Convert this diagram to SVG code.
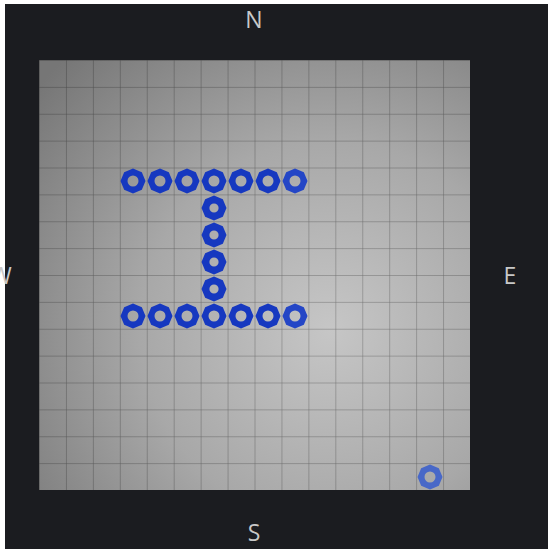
<svg xmlns="http://www.w3.org/2000/svg" width="548" height="549" viewBox="0 0 548 549">
<defs>
<radialGradient id="bg" gradientUnits="userSpaceOnUse" cx="330" cy="330" r="380">
<stop offset="0" stop-color="#c6c6c6"/>
<stop offset="0.5" stop-color="#a8a8a8"/>
<stop offset="1" stop-color="#767676"/>
</radialGradient>
<pattern id="grid" patternUnits="userSpaceOnUse" x="39" y="60" width="26.9375" height="26.875">
<path d="M0 0H26.9375M0 0V26.875" fill="none" stroke="#000" stroke-opacity="0.4" stroke-width="1"/>
</pattern>
<path id="nut" d="M12.5 0L8.84 8.84L0 12.5L-8.84 8.84L-12.5 0L-8.84 -8.84L0 -12.5L8.84 -8.84Z M5.5 0A5.5 5.5 0 1 0 -5.5 0A5.5 5.5 0 1 0 5.5 0Z" fill-rule="evenodd"/>
<path id="nut2" d="M12.5 0L8.84 8.84L0 12.5L-8.84 8.84L-12.5 0L-8.84 -8.84L0 -12.5L8.84 -8.84Z M4.6 0A4.6 4.6 0 1 0 -4.6 0A4.6 4.6 0 1 0 4.6 0Z" fill-rule="evenodd"/>
</defs>
<style>
.lbl{font-family:"Open Sans","DejaVu Sans",sans-serif;font-size:23px;fill:#c8c8c8;text-anchor:middle}
.b{fill:#1638c0}
.b2{fill:#2446c6}
.b3{fill:#4868c8}
</style>
<rect width="548" height="549" fill="#ffffff"/>
<rect x="5" y="4" width="543" height="545" fill="#1b1c20"/>
<g id="board">
<rect x="39" y="60" width="431" height="430" fill="url(#bg)"/>
<rect x="39" y="60" width="431" height="430" fill="url(#grid)"/>
</g>
<g id="labels">
<text class="lbl" x="254" y="28">N</text>
<text class="lbl" x="510" y="284">E</text>
<text class="lbl" x="254" y="541">S</text>
<text class="lbl" x="1" y="284">W</text>
</g>
<g id="pieces">
<use href="#nut" class="b" x="133" y="181"/>
<use href="#nut" class="b" x="160" y="181"/>
<use href="#nut" class="b" x="187" y="181"/>
<use href="#nut" class="b" x="214" y="181"/>
<use href="#nut" class="b" x="241" y="181"/>
<use href="#nut" class="b" x="268" y="181"/>
<use href="#nut" class="b2" x="295" y="181"/>
<use href="#nut2" class="b" x="214" y="208"/>
<use href="#nut2" class="b" x="214" y="235"/>
<use href="#nut2" class="b" x="214" y="262"/>
<use href="#nut2" class="b" x="214" y="289"/>
<use href="#nut" class="b" x="133" y="316"/>
<use href="#nut" class="b" x="160" y="316"/>
<use href="#nut" class="b" x="187" y="316"/>
<use href="#nut" class="b" x="214" y="316"/>
<use href="#nut" class="b" x="241" y="316"/>
<use href="#nut" class="b" x="268" y="316"/>
<use href="#nut" class="b2" x="295" y="316"/>
<use href="#nut" class="b3" x="430" y="477"/>
</g>
</svg>
